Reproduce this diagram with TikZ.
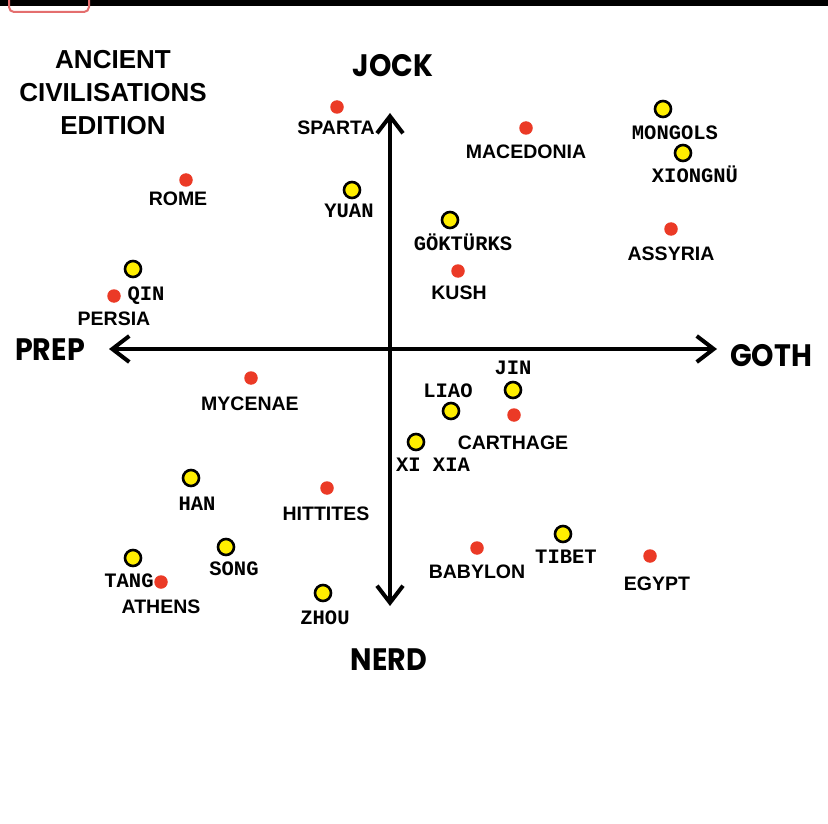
\documentclass[tikz,border=0pt]{standalone}
\usepackage{fontspec}
\setmainfont{Liberation Sans}
\newfontfamily\monofont{Liberation Mono}
\newfontfamily\handfont{Poppins}
\usetikzlibrary{arrows.meta}
\definecolor{dotred}{RGB}{235,58,38}
\definecolor{dotyellow}{RGB}{255,238,0}
\definecolor{uired}{RGB}{228,110,110}
\begin{document}
\begin{tikzpicture}[x=1pt,y=-1pt,
  reddot/.style={circle,fill=dotred,minimum size=13.5pt,inner sep=0pt},
  yeldot/.style={circle,fill=dotyellow,draw=black,line width=2.6pt,minimum size=16pt,inner sep=0pt},
  civ/.style={font=\fontsize{19.5}{20}\selectfont\bfseries,inner sep=0pt,text height=14pt,text depth=0pt},
  dyn/.style={font=\fontsize{20.5}{21}\selectfont\monofont\bfseries,inner sep=0pt,text height=12pt,text depth=0pt},
  hand/.style={font=\fontsize{31}{31}\selectfont\handfont\bfseries,inner sep=0pt,xscale=0.92},
  axisline/.style={line width=4pt,line cap=round,
    {Straight Barb[length=17pt,width=26pt]}-{Straight Barb[length=17pt,width=26pt]}}]
\useasboundingbox (0,0) rectangle (828,824);
\fill[white] (0,0) rectangle (828,824);
% top UI bar
\fill[black] (0,0) rectangle (828,6);
\draw[uired,line width=2pt,rounded corners=5pt] (9,-10) rectangle (89,12);
% title
\node[font=\fontsize{26}{33}\selectfont\bfseries,align=center,inner sep=0pt] (title) at (113,93) {ANCIENT\\CIVILISATIONS\\EDITION};
% axes
\coordinate (top) at (390,113);
\coordinate (bot) at (390,606);
\coordinate (lft) at (109,349);
\coordinate (rgt) at (717,349);
\draw[axisline] (bot) -- (top);
\draw[axisline] (lft) -- (rgt);
% axis labels
\node[hand] (jock) at (393,66) {JOCK};
\node[hand] (prep) at (50,350) {PREP};
\node[hand] (goth) at (771,356) {GOTH};
\node[hand] (nerd) at (389,660) {NERD};
% red dots (civilisations)
\node[reddot] (sparta) at (337,107) {};   \node[civ] (spartaL) at (336,128) {SPARTA};
\node[reddot] (macedonia) at (526,128) {};\node[civ] (macedoniaL) at (526,152) {MACEDONIA};
\node[reddot] (rome) at (186,180) {};     \node[civ] (romeL) at (178,198) {ROME};
\node[reddot] (assyria) at (671,229) {};  \node[civ] (assyriaL) at (671,253) {ASSYRIA};
\node[reddot] (kush) at (458,271) {};     \node[civ] (kushL) at (459,292) {KUSH};
\node[reddot] (persia) at (114,296) {};   \node[civ] (persiaL) at (114,318) {PERSIA};
\node[reddot] (mycenae) at (251,378) {};  \node[civ] (mycenaeL) at (250,403) {MYCENAE};
\node[reddot] (carthage) at (514,415) {}; \node[civ] (carthageL) at (513,442) {CARTHAGE};
\node[reddot] (hittites) at (327,488) {}; \node[civ] (hittitesL) at (326,513) {HITTITES};
\node[reddot] (babylon) at (477,548) {};  \node[civ] (babylonL) at (477,571) {BABYLON};
\node[reddot] (egypt) at (650,556) {};    \node[civ] (egyptL) at (657,583) {EGYPT};
\node[reddot] (athens) at (161,582) {};   \node[civ] (athensL) at (161,606) {ATHENS};
% yellow dots (dynasties)
\node[yeldot] (mongols) at (663,109) {};  \node[dyn] (mongolsL) at (675,134) {MONGOLS};
\node[yeldot] (xiongnu) at (683,153) {};  \node[dyn] (xiongnuL) at (695,177) {XIONGNÜ};
\node[yeldot] (yuan) at (352,190) {};     \node[dyn] (yuanL) at (349,212) {YUAN};
\node[yeldot] (gokturks) at (450,220) {}; \node[dyn] (gokturksL) at (463,245) {GÖKTÜRKS};
\node[yeldot] (qin) at (133,269) {};      \node[dyn] (qinL) at (146,294) {QIN};
\node[yeldot] (jin) at (513,390) {};      \node[dyn] (jinL) at (513,368) {JIN};
\node[yeldot] (liao) at (451,411) {};     \node[dyn] (liaoL) at (448,391) {LIAO};
\node[yeldot] (xixia) at (416,442) {};    \node[dyn] (xixiaL) at (433,465) {XI XIA};
\node[yeldot] (han) at (191,478) {};      \node[dyn] (hanL) at (197,504) {HAN};
\node[yeldot] (song) at (226,547) {};     \node[dyn] (songL) at (234,569) {SONG};
\node[yeldot] (tang) at (133,558) {};     \node[dyn] (tangL) at (129,581) {TANG};
\node[yeldot] (zhou) at (323,593) {};     \node[dyn] (zhouL) at (325,618) {ZHOU};
\node[yeldot] (tibet) at (563,534) {};    \node[dyn] (tibetL) at (566,557) {TIBET};
\end{tikzpicture}
\end{document}
